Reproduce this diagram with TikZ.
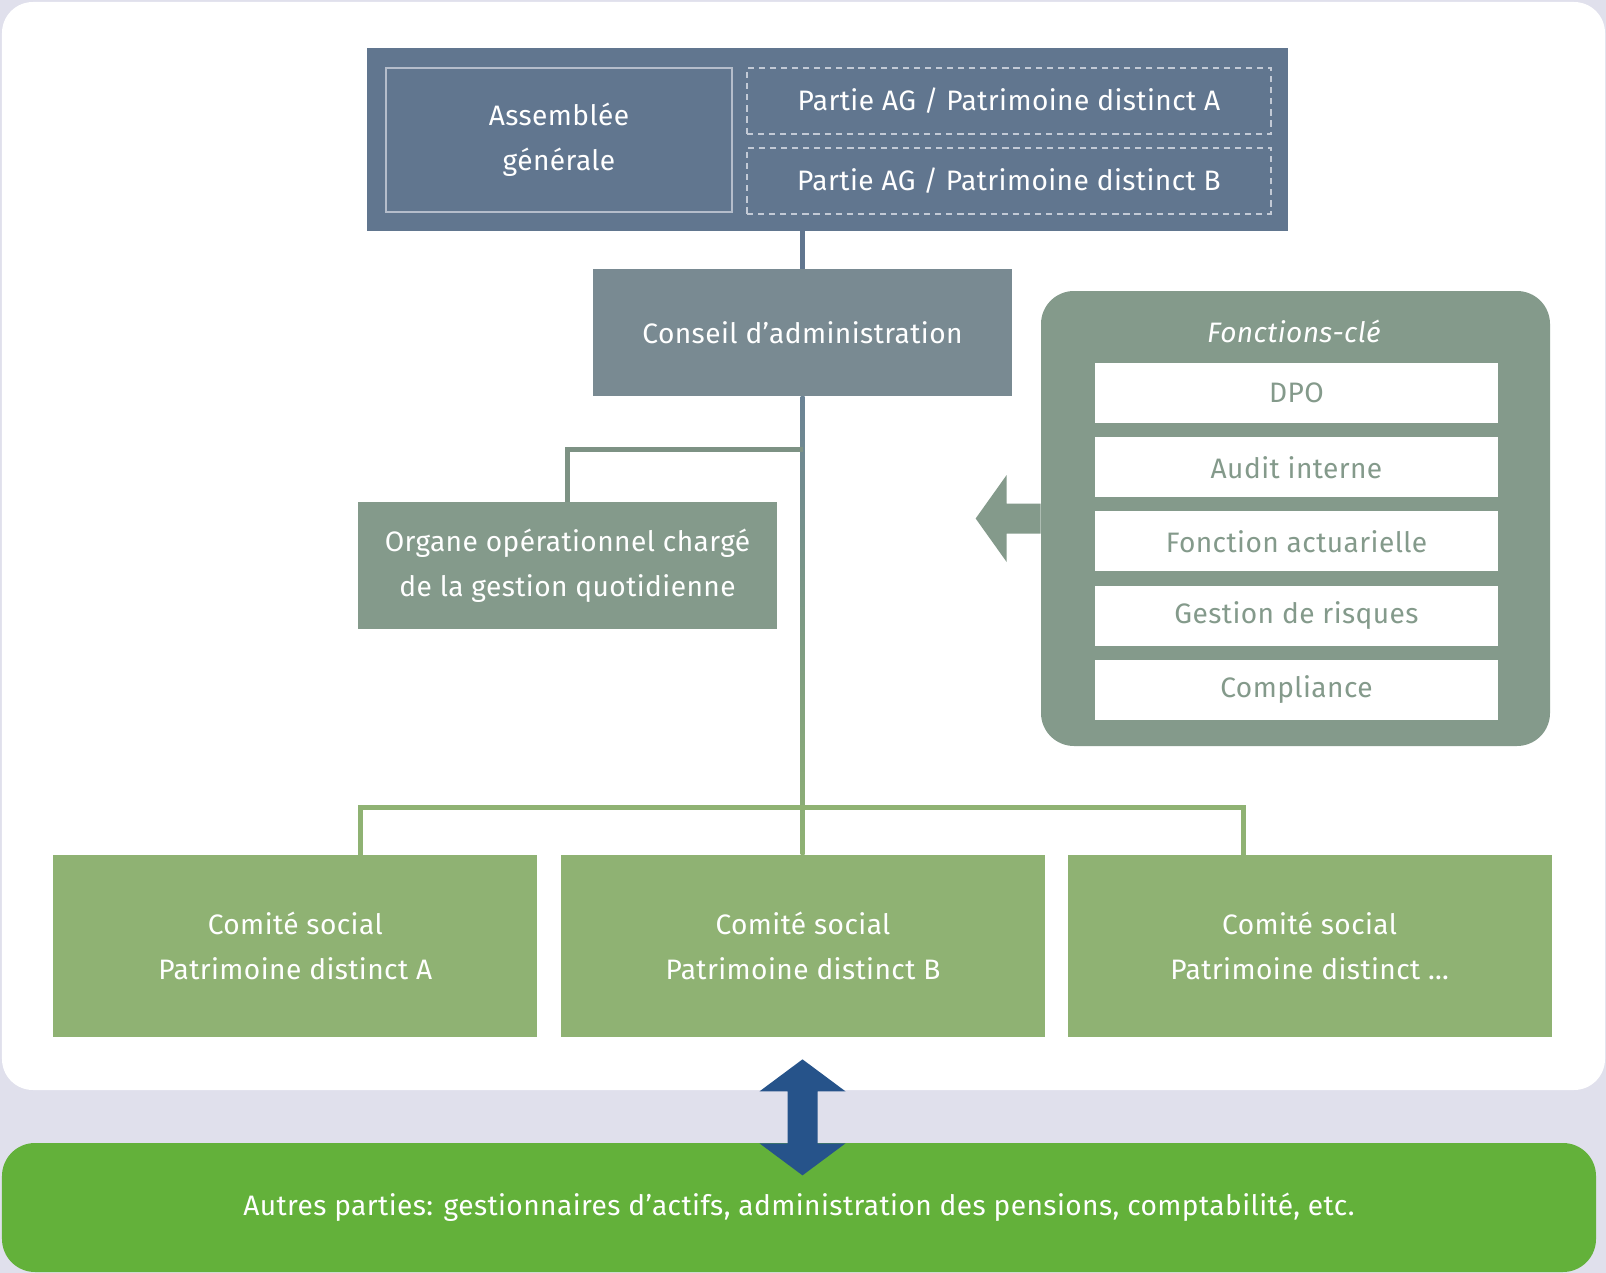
\documentclass[tikz,border=0pt]{standalone}
\usepackage{fontspec}
\setmainfont{Fira Sans}[LetterSpace=1.5]
\usepackage{xcolor}
\usepackage{tikz}
\usetikzlibrary{positioning,calc}

\definecolor{bgpanel}{HTML}{E0E0EC}
\definecolor{agblue}{HTML}{61768F}
\definecolor{aglight}{HTML}{B5BDCB}
\definecolor{agdash}{HTML}{C3CAD6}
\definecolor{conseilgray}{HTML}{798A92}
\definecolor{keygreen}{HTML}{849A8B}
\definecolor{linetop}{HTML}{6B8395}
\definecolor{comitegreen}{HTML}{8FB273}
\definecolor{autresgreen}{HTML}{63B13A}
\definecolor{arrowblue}{HTML}{26538A}

\tikzset{
    txt/.style={font=\fontsize{16}{25.5}\selectfont, text=white, align=center},
    block/.style={txt, rectangle, inner sep=0pt, minimum width=8.38cm, minimum height=2.54cm},
    partbox/.style={txt, rectangle, inner sep=0pt, draw=agdash, line width=1.1pt,
        dash pattern=on 3.5pt off 2.8pt, minimum width=10.48cm, minimum height=1.32cm},
    keybox/.style={txt, text=keygreen, fill=white, inner sep=0pt, minimum width=8.06cm, minimum height=1.2cm},
    comite/.style={block, fill=comitegreen, minimum width=9.68cm, minimum height=3.64cm},
    orgline/.style={draw=keygreen!95!black, line width=2.6pt},
    csline/.style={draw=comitegreen, line width=2.6pt}
}

\begin{document}
\begin{tikzpicture}
    % Background and white panel
    \useasboundingbox (0,0) rectangle (32.12,-25.46);
    \fill[bgpanel] (0,0) rectangle (32.12,-25.46);
    \fill[white, rounded corners=0.62cm] (0.04,-0.04) rectangle (32.10,-21.80);

    % General assembly
    \node[block, fill=agblue, minimum width=18.42cm, minimum height=3.66cm] (ag) at (16.55,-2.79) {};
    \node[block, draw=aglight, line width=1.1pt, minimum width=6.92cm, minimum height=2.88cm] (assemblee) at (11.18,-2.80) {Assemblée\\générale};
    \node[partbox] (partA) at (20.18,-2.02) {Partie AG / Patrimoine distinct A};
    \node[partbox, below=0.24cm of partA] (partB) {Partie AG / Patrimoine distinct B};

    % Board and daily management
    \node[block, fill=conseilgray] (conseil) at (16.05,-6.65) {Conseil d’administration};
    \node[block, fill=keygreen] (organe) at (11.35,-11.31) {Organe opérationnel chargé\\de la gestion quotidienne};

    % Key functions
    \node[block, fill=keygreen, rounded corners=0.66cm, minimum width=10.18cm, minimum height=9.10cm] (fonctions) at (25.91,-10.37) {};
    \node[txt] (titre) at (25.88,-6.62) {\itshape Fonctions-clé};
    \node[keybox] (dpo) at (25.93,-7.86) {DPO};
    \node[keybox, below=0.27cm of dpo] (audit) {Audit interne};
    \node[keybox, below=0.27cm of audit] (actuariel) {Fonction actuarielle};
    \node[keybox, below=0.27cm of actuariel] (risques) {Gestion de risques};
    \node[keybox, below=0.27cm of risques] (compliance) {Compliance};
    \fill[keygreen] ($(fonctions.west)+(0,0.30)$) -- ++(-0.68,0) -- ++(0,0.57) -- ++(-0.62,-0.87)
        -- ++(0.62,-0.87) -- ++(0,0.57) -- ++(0.68,0) -- cycle;

    % Social committees
    \node[comite] (csB) at (16.06,-18.92) {Comité social\\Patrimoine distinct B};
    \node[comite, left=0.46cm of csB] (csA) {Comité social\\Patrimoine distinct A};
    \node[comite, right=0.44cm of csB] (csC) {Comité social\\Patrimoine distinct …};

    % Other parties
    \node[block, fill=autresgreen, rounded corners=0.66cm, minimum width=31.88cm, minimum height=2.58cm] (autres) at (15.98,-24.15) {Autres parties: gestionnaires d’actifs, administration des pensions, comptabilité, etc.};

    % Connectors
    \draw[agblue, line width=2.3pt] (conseil.north |- ag.south) -- (conseil.north);
    \shade[top color=linetop, bottom color=comitegreen] ($(conseil.south)+(-0.04,0)$) rectangle ($(conseil.south |- csB.north)+(0.04,0)$);
    \coordinate (split1) at ($(conseil.south)+(0,-1.06)$);
    \draw[orgline] (split1) -| (organe.north);
    \coordinate (split2) at ($(conseil.south |- csB.north)+(0,0.94)$);
    \draw[csline] ([xshift=1.3cm]csA.north) |- (split2) -| ([xshift=-1.32cm]csC.north);

    % Two-way arrow
    \coordinate (dblmid) at ($(conseil.south |- csB.south)+(0,-1.60)$);
    \fill[arrowblue] ($(dblmid)+(0,1.16)$) -- ++(0.86,-0.64) -- ++(-0.56,0) -- ++(0,-1.04) -- ++(0.56,0)
        -- ++(-0.86,-0.64) -- ++(-0.86,0.64) -- ++(0.56,0) -- ++(0,1.04) -- ++(-0.56,0) -- cycle;
\end{tikzpicture}
\end{document}
